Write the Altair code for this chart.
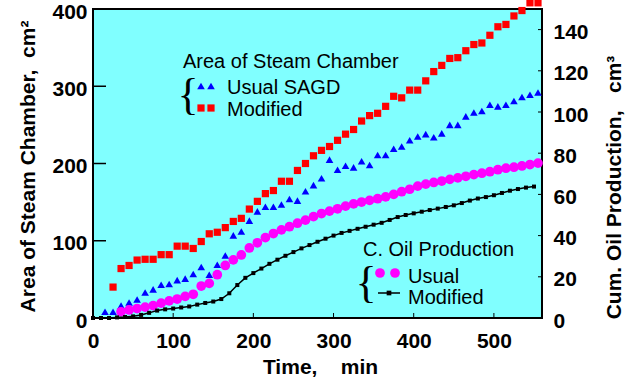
import altair as alt
import pandas as pd

# ---------------- data ----------------
red_t = [25, 35, 45, 55, 65, 75, 85, 95, 105, 115, 125, 135, 145, 155, 165, 175, 185, 195,
         205, 215, 225, 235, 245, 255, 265, 275, 285, 295, 305, 315, 325, 335, 345, 355,
         365, 375, 385, 395, 405, 415, 425, 435, 445, 455, 465, 475, 485, 495, 505, 515,
         525, 535, 545, 555]
red_area = [40, 64, 68, 75, 76, 76, 82, 82, 93, 93, 90, 99, 109, 111, 117, 125, 129, 141,
            151, 161, 165, 177, 177, 191, 200, 210, 217, 222, 230, 238, 244, 255, 262, 265,
            274, 287, 285, 295, 295, 307, 319, 327, 336, 337, 346, 354, 356, 366, 377, 380,
            391, 398, 408, 408]

blue_t = [15, 25, 35, 45, 55, 65, 75, 85, 95, 105, 115, 125, 135, 145, 155, 165, 175, 185,
          195, 205, 215, 225, 235, 245, 255, 265, 275, 285, 295, 305, 315, 325, 335, 345,
          355, 365, 375, 385, 395, 405, 415, 425, 435, 445, 455, 465, 475, 485, 495, 505,
          515, 525, 535, 545, 555]
blue_area = [8, 8, 16, 20, 24, 33, 37, 43, 44, 49, 51, 57, 66, 56, 69, 81, 107, 112,
             126, 138, 144, 144, 147, 154, 152, 164, 172, 181, 205, 192, 197, 195, 203, 198,
             211, 211, 219, 222, 230, 235, 238, 234, 239, 250, 250, 261, 266, 268, 276, 274,
             276, 281, 286, 289, 292]

mag_t = [35, 45, 55, 65, 75, 85, 95, 105, 115, 125, 135, 145, 155, 165, 175, 185, 195,
         205, 215, 225, 235, 245, 255, 265, 275, 285, 295, 305, 315, 325, 335, 345, 355,
         365, 375, 385, 395, 405, 415, 425, 435, 445, 455, 465, 475, 485, 495, 505, 515,
         525, 535, 545, 555]
mag_oil = [3, 3.9, 4.6, 5.3, 6, 7.2, 8.3, 9.2, 10.5, 11.5, 15.5, 16.8, 21, 25.5, 28.2,
           30.6, 34, 36.5, 39, 41, 42.8, 44.3, 46, 47.5, 49.2, 50.7, 51.9, 53, 54.3, 55.4,
           56.3, 57.1, 57.9, 58.8, 60, 61.3, 62.5, 64, 65, 65.8, 66.5, 67.3, 68, 68.8, 69.6,
           70.3, 71, 72, 72.7, 73.2, 73.8, 74.5, 75.2]

blk_t = [0, 10, 20, 30, 40, 50, 60, 70, 80, 90, 100, 110, 120, 130, 140, 150, 160, 170,
         180, 190, 200, 210, 220, 230, 240, 250, 260, 270, 280, 290, 300, 310, 320, 330,
         340, 350, 360, 370, 380, 390, 400, 410, 420, 430, 440, 450, 460, 470, 480, 490,
         500, 510, 520, 530, 540, 550]
blk_oil = [0, 0, 0, 0.3, 0.5, 0.8, 1.5, 2.5, 3.6, 4.2, 4.6, 5.1, 5.6, 6.5, 7.3, 8, 9.2, 12,
           16, 19.5, 21.8, 24, 26.3, 28.3, 30.2, 32, 33.8, 35.4, 37, 38.5, 40, 41.3, 42.3,
           43.3, 44.3, 45.3, 46.2, 47.6, 49, 50, 50.8, 51.6, 52.4, 53.1, 53.9, 54.7, 55.8,
           57, 58, 58.7, 59.6, 60.7, 61.8, 62.6, 63.3, 63.8]

x_tick_values = [0, 100, 200, 300, 400, 500]
left_tick_values = [0, 100, 200, 300, 400]
right_tick_values = [0, 20, 40, 60, 80, 100, 120, 140]

# ---------------- styling ----------------
FONT = "Liberation Sans"
W, H = 449, 309
LBL = 21
TTL = 21

common_axis = dict(grid=False, ticks=False, domain=False, labelFont=FONT, labelFontSize=LBL,
                   labelColor="black", labelFontWeight="bold", titleFont=FONT,
                   titleFontSize=TTL, titleColor="black", titleFontWeight="bold",
                   labelFlush=False, labelOverlap=False)

x_enc = alt.X("t:Q", scale=alt.Scale(domain=[0, 560], nice=False, zero=False),
              axis=alt.Axis(values=x_tick_values, title="Time,\u00a0\u00a0\u00a0\u00a0min",
                            labelPadding=12, titleX=227, titleY=49, titleBaseline="middle",
                            titleAlign="center", **common_axis))

left_y = alt.Y("area:Q", scale=alt.Scale(domain=[0, 400], nice=False),
               axis=alt.Axis(orient="left", values=left_tick_values,
                             title="Area of Steam Chamber,\u00a0\u00a0cm\u00b2",
                             labelPadding=6, labelOffset=3, titleAngle=270, titleX=-65,
                             titleY=157, titleBaseline="middle", titleAlign="center",
                             **common_axis))

right_y = alt.Y("oil:Q", scale=alt.Scale(domain=[0, 150], nice=False),
                axis=alt.Axis(orient="right", values=right_tick_values,
                              title="Cum. Oil Production,\u00a0\u00a0\u00a0cm\u00b3",
                              labelPadding=11, labelOffset=3, titleAngle=270, titleX=72,
                              titleY=178, titleBaseline="middle", titleAlign="center",
                              **common_axis))

red_df = pd.DataFrame({"t": red_t, "area": red_area})
blue_df = pd.DataFrame({"t": blue_t, "area": blue_area})
mag_df = pd.DataFrame({"t": mag_t, "oil": mag_oil})
blk_df = pd.DataFrame({"t": blk_t, "oil": blk_oil})

red = alt.Chart(red_df).mark_point(shape="square", filled=True, size=52, color="#ff0000",
                                   opacity=1).encode(x=x_enc, y=left_y)
blue = alt.Chart(blue_df).mark_point(shape="triangle-up", filled=True, size=58,
                                     color="#0000ff", opacity=1).encode(x=x_enc, y=left_y)
lticks = alt.Chart(pd.DataFrame({"area": [100, 200, 300]})).mark_rule(
    color="black", strokeWidth=1.5).encode(y=left_y, x=alt.value(0), x2=alt.value(13))
bticks = alt.Chart(pd.DataFrame({"t": [100, 200, 300, 400, 500]})).mark_rule(
    color="black", strokeWidth=1).encode(x=x_enc, y=alt.value(H), y2=alt.value(H - 5))

left_group = alt.layer(lticks, bticks, red, blue)

mag = alt.Chart(mag_df).mark_circle(size=95, color="#ff00ff", opacity=1).encode(
    x=x_enc, y=right_y)
blk_line = alt.Chart(blk_df).mark_line(color="black", strokeWidth=1.5).encode(
    x=x_enc, y=right_y)
blk_pts = alt.Chart(blk_df).mark_point(shape="square", filled=True, size=16, color="black",
                                       opacity=1).encode(x=x_enc, y=right_y)
rticks = alt.Chart(pd.DataFrame({"oil": [20, 40, 60, 80, 100, 120, 140]})).mark_rule(
    color="black", strokeWidth=1).encode(y=right_y, x=alt.value(W), x2=alt.value(W - 4))

right_group = alt.layer(rticks, mag, blk_line, blk_pts)

# ---------------- in-plot legends ----------------
dummy = alt.Data(values=[{}])
OX, OY = 93, 9


def txt(s, x, y, size=20, align="left", font=FONT):
    return alt.Chart(dummy).mark_text(text=s, font=font, fontSize=size, align=align,
                                      baseline="middle", color="black").encode(
        x=alt.value(x - OX), y=alt.value(y - OY))


def pt(x, y, shape, color, size):
    return alt.Chart(dummy).mark_point(shape=shape, filled=True, size=size, color=color,
                                       opacity=1).encode(x=alt.value(x - OX), y=alt.value(y - OY))


legend_layers = [
    txt("Area of Steam Chamber", 183, 62),
    txt("{", 188, 96, size=44, align="center", font="Liberation Serif"),
    pt(201, 86, "triangle-up", "#0000ff", 58),
    pt(211, 86, "triangle-up", "#0000ff", 58),
    txt("Usual SAGD", 227, 88),
    pt(201, 108, "square", "#ff0000", 52),
    pt(211, 108, "square", "#ff0000", 52),
    txt("Modified", 227, 110),
    txt("C. Oil Production", 363, 250),
    txt("{", 366, 284, size=44, align="center", font="Liberation Serif"),
    pt(380, 273, "circle", "#ff00ff", 95),
    pt(395, 273, "circle", "#ff00ff", 95),
    txt("Usual", 408, 277),
    alt.Chart(dummy).mark_rule(color="black", strokeWidth=1.5).encode(
        x=alt.value(378 - OX), x2=alt.value(400 - OX), y=alt.value(293 - OY)),
    pt(389, 293, "square", "black", 22),
    txt("Modified", 408, 298),
]

chart = alt.layer(left_group, right_group, *legend_layers).resolve_scale(
    y="independent"
).properties(
    width=W, height=H, autosize="none",
    padding={"left": 93, "top": 9, "right": 84, "bottom": 69},
    background="white",
).configure_view(fill="#80ffff", stroke="black", strokeWidth=2)

chart.save("out.html", embed_options={"renderer": "svg", "actions": False})
